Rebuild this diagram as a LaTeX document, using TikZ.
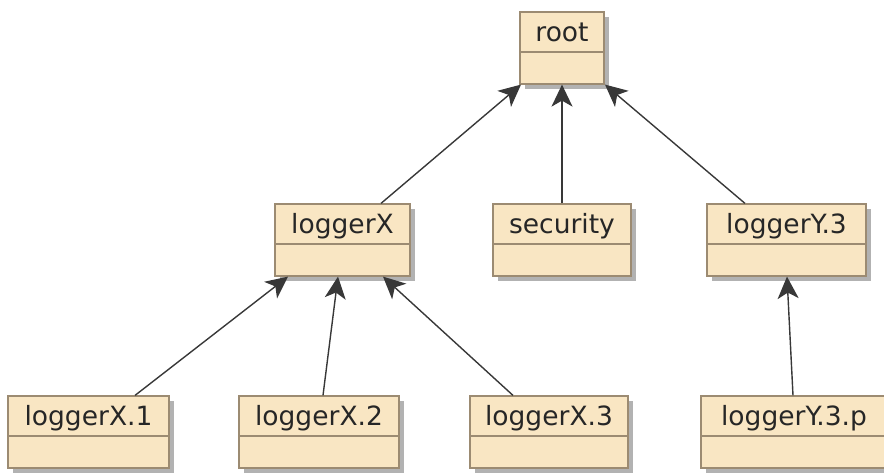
\documentclass[tikz,border=0pt]{standalone}
\usepackage{fontspec}
\setmainfont{DejaVu Sans}
\usetikzlibrary{arrows.meta,shadows}

\definecolor{clsfill}{HTML}{F9E6C3}
\definecolor{clsline}{HTML}{9C8B72}
\definecolor{arrline}{HTML}{383838}

\tikzset{
	cls/.style={draw=clsline,fill=clsfill,line width=1.2pt,minimum height=72pt,
		inner ysep=0pt,text height=29pt,text depth=43pt,
		font=\fontsize{26.5}{30}\selectfont,text=black!85,
		drop shadow={shadow xshift=5pt,shadow yshift=-5pt,fill=black,opacity=.3},
		path picture={\draw[clsline,line width=1.2pt]
			([yshift=-40pt]path picture bounding box.north west) --
			([yshift=-40pt]path picture bounding box.north east);}},
	inh/.style={draw=arrline,line width=1.4pt,
		-{Stealth[length=22pt,width=21pt,inset=6pt]}}
}

\begin{document}
\begin{tikzpicture}[x=1pt,y=-1pt]
	\useasboundingbox (0,0) rectangle (884,472);
	\node[cls,minimum width=84pt] (root) at (562,48) {root};
	\node[cls,minimum width=135pt] (lx) at (342.5,240) {loggerX};
	\node[cls,minimum width=138pt] (sec) at (562,240) {security};
	\node[cls,minimum width=159pt] (ly) at (786.5,240) {loggerY.3};
	\node[cls,minimum width=161pt] (lx1) at (88.5,432) {loggerX.1};
	\node[cls,minimum width=160pt] (lx2) at (319,432) {loggerX.2};
	\node[cls,minimum width=158pt] (lx3) at (549,432) {loggerX.3};
	\node[cls,minimum width=186pt] (lyp) at (794,432) {loggerY.3.p};
	\path ([xshift=38.5pt]lx.north) edge[inh] ([xshift=-41pt]root.south)
		(sec) edge[inh] (root)
		([xshift=-41.5pt]ly.north) edge[inh] ([xshift=43pt]root.south)
		([xshift=46.5pt]lx1.north) edge[inh] ([xshift=-54.5pt]lx.south)
		([xshift=4pt]lx2.north) edge[inh] ([xshift=-4.5pt]lx.south)
		([xshift=-36pt]lx3.north) edge[inh] ([xshift=40.5pt]lx.south)
		([xshift=-1pt]lyp.north) edge[inh] ([xshift=0.5pt]ly.south);
\end{tikzpicture}
\end{document}
